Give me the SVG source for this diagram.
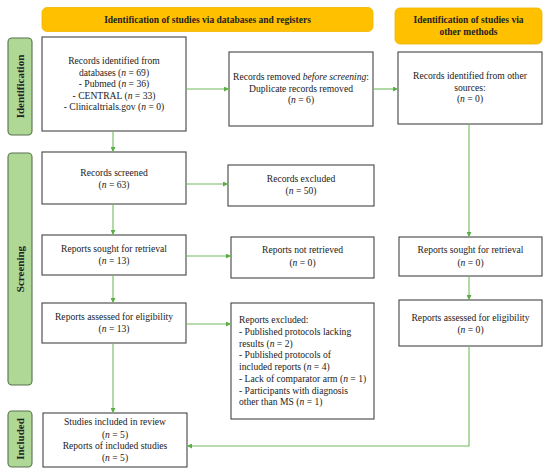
<svg xmlns="http://www.w3.org/2000/svg" width="550" height="475" viewBox="0 0 550 475">
<style>
.t{font-family:"Liberation Serif","Times New Roman",serif;font-size:9.6px;fill:#222;text-anchor:middle}
.l{text-anchor:start}
.i{font-style:italic}
.b{font-family:"Liberation Serif","Times New Roman",serif;font-size:9.5px;font-weight:bold;fill:#222;text-anchor:middle}
.side{font-family:"Liberation Serif","Times New Roman",serif;font-size:11px;font-weight:bold;fill:#222;text-anchor:middle}
.box{fill:#fff;stroke:#444;stroke-width:1.1}
.ban{fill:#FFC000;stroke:#F0B400;stroke-width:0.8}
.lab{fill:#AFD896;stroke:#56704A;stroke-width:1.1}
.c{fill:none;stroke:#72BA5E;stroke-width:1.1}
</style>
<defs>
<marker id="ah" viewBox="0 0 10 10" refX="10" refY="5" markerWidth="5" markerHeight="5" orient="auto" markerUnits="userSpaceOnUse">
<path d="M0,0 L10,5 L0,10 z" fill="#5BAE45"/>
</marker>
</defs>

<g id="banner-databases"><rect class="ban" x="42" y="7.5" width="331" height="24" rx="5"/><text class="b" x="207.5" y="22.5">Identification of studies via databases and registers</text></g>
<g id="banner-other"><rect class="ban" x="395" y="8" width="147" height="36" rx="5"/><text class="b" x="468.5" y="23">Identification of studies via</text><text class="b" x="468.5" y="35">other methods</text></g>

<g id="label-identification"><rect class="lab" x="8" y="38" width="24" height="97" rx="4"/><text class="side" transform="translate(24,86.5) rotate(-90)">Identification</text></g>
<g id="label-screening"><rect class="lab" x="8" y="153" width="24" height="232" rx="4"/><text class="side" transform="translate(24,269) rotate(-90)">Screening</text></g>
<g id="label-included"><rect class="lab" x="8" y="411" width="24" height="56" rx="4"/><text class="side" transform="translate(24,439) rotate(-90)">Included</text></g>

<g id="records-identified"><rect class="box" x="42" y="37" width="144" height="94"/>
<text class="t" x="114" y="64">Records identified from</text>
<text class="t" x="114" y="75.5">databases (<tspan class="i">n</tspan> = 69)</text>
<text class="t" x="114" y="87">- Pubmed (<tspan class="i">n</tspan> = 36)</text>
<text class="t" x="114" y="98.5">- CENTRAL (<tspan class="i">n</tspan> = 33)</text>
<text class="t" x="114" y="110">- Clinicaltrials.gov (<tspan class="i">n</tspan> = 0)</text></g>

<g id="records-removed"><rect class="box" x="229" y="52" width="144" height="74"/>
<text class="t" x="301" y="80">Records removed <tspan class="i">before screening</tspan>:</text>
<text class="t" x="301" y="92">Duplicate records removed</text>
<text class="t" x="301" y="103">(<tspan class="i">n</tspan> = 6)</text></g>

<g id="records-other"><rect class="box" x="398" y="52" width="144" height="72"/>
<text class="t" x="470" y="79">Records identified from other</text>
<text class="t" x="470" y="90.5">sources:</text>
<text class="t" x="470" y="102">(<tspan class="i">n</tspan> = 0)</text></g>

<g id="records-screened"><rect class="box" x="42" y="152" width="144" height="52"/>
<text class="t" x="114" y="176">Records screened</text>
<text class="t" x="114" y="187.5">(<tspan class="i">n</tspan> = 63)</text></g>

<g id="records-excluded"><rect class="box" x="228" y="165" width="146" height="41"/>
<text class="t" x="301" y="182">Records excluded</text>
<text class="t" x="301" y="194">(<tspan class="i">n</tspan> = 50)</text></g>

<g id="reports-sought"><rect class="box" x="42" y="235" width="144" height="40"/>
<text class="t" x="114" y="252">Reports sought for retrieval</text>
<text class="t" x="114" y="264">(<tspan class="i">n</tspan> = 13)</text></g>

<g id="reports-not-retrieved"><rect class="box" x="231" y="237" width="143" height="41"/>
<text class="t" x="302.5" y="253">Reports not retrieved</text>
<text class="t" x="302.5" y="265.5">(<tspan class="i">n</tspan> = 0)</text></g>

<g id="reports-sought-other"><rect class="box" x="399" y="237" width="143" height="39"/>
<text class="t" x="470.5" y="253">Reports sought for retrieval</text>
<text class="t" x="470.5" y="265.5">(<tspan class="i">n</tspan> = 0)</text></g>

<g id="reports-assessed"><rect class="box" x="42" y="303" width="144" height="40"/>
<text class="t" x="114" y="320">Reports assessed for eligibility</text>
<text class="t" x="114" y="332">(<tspan class="i">n</tspan> = 13)</text></g>

<g id="reports-excluded"><rect class="box" x="231" y="303" width="143" height="116"/>
<text class="t l" x="239" y="323">Reports excluded:</text>
<text class="t l" x="239" y="335">- Published protocols lacking</text>
<text class="t l" x="239" y="346.5">results (<tspan class="i">n</tspan> = 2)</text>
<text class="t l" x="239" y="358">- Published protocols of</text>
<text class="t l" x="239" y="370">included reports (<tspan class="i">n</tspan> = 4)</text>
<text class="t l" x="239" y="382">- Lack of comparator arm (<tspan class="i">n</tspan> = 1)</text>
<text class="t l" x="239" y="393.5">- Participants with diagnosis</text>
<text class="t l" x="239" y="405">other than MS (<tspan class="i">n</tspan> = 1)</text></g>

<g id="reports-assessed-other"><rect class="box" x="399" y="300" width="143" height="46"/>
<text class="t" x="470.5" y="321">Reports assessed for eligibility</text>
<text class="t" x="470.5" y="333">(<tspan class="i">n</tspan> = 0)</text></g>

<g id="studies-included"><rect class="box" x="43" y="413" width="144" height="54"/>
<text class="t" x="115" y="425">Studies included in review</text>
<text class="t" x="115" y="437.5">(<tspan class="i">n</tspan> = 5)</text>
<text class="t" x="115" y="449">Reports of included studies</text>
<text class="t" x="115" y="460.5">(<tspan class="i">n</tspan> = 5)</text></g>

<g id="connectors">
<path class="c" marker-end="url(#ah)" d="M186,89 H229"/>
<path class="c" marker-end="url(#ah)" d="M373,89 H398"/>
<path class="c" marker-end="url(#ah)" d="M113,131 V152"/>
<path class="c" marker-end="url(#ah)" d="M186,184 H228"/>
<path class="c" marker-end="url(#ah)" d="M113,204 V235"/>
<path class="c" marker-end="url(#ah)" d="M186,256 H231"/>
<path class="c" marker-end="url(#ah)" d="M113,275 V303"/>
<path class="c" marker-end="url(#ah)" d="M186,324 H231"/>
<path class="c" marker-end="url(#ah)" d="M113,343 V413"/>
<path class="c" marker-end="url(#ah)" d="M469,124 V237"/>
<path class="c" marker-end="url(#ah)" d="M469,276 V300"/>
<path class="c" marker-end="url(#ah)" d="M469,346 V446 H187"/>
</g>
</svg>
